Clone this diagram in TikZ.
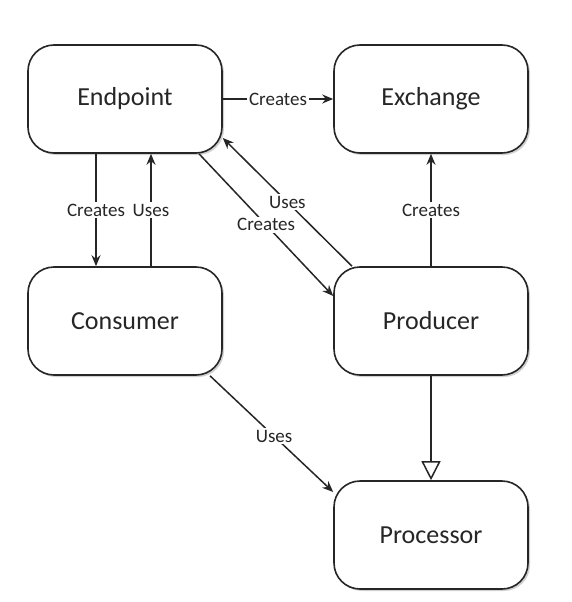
\documentclass[tikz,border=0pt]{standalone}
\usepackage{fontspec}
\setmainfont{Carlito}
\usetikzlibrary{arrows.meta,shadows}
\begin{document}
\begin{tikzpicture}[x=1pt,y=-1pt,
  box/.style={draw=black!85, line width=1.6pt, rounded corners=26pt, fill=white,
    minimum width=194pt, minimum height=108pt, inner sep=0pt,
    font=\fontsize{26}{30}\selectfont, text=black!85,
    drop shadow={shadow xshift=2pt, shadow yshift=-2pt, fill=black, opacity=0.18}},
  conn/.style={line width=1.5pt, draw=black!85, -{Stealth[length=11pt,width=9pt]}},
  gen/.style={line width=1.5pt, draw=black!85, -{Triangle[open,length=19pt,width=19pt,line width=1.5pt]}},
  lbl/.style={fill=white, inner sep=2pt, font=\fontsize{19}{22}\selectfont, text=black!85}]
\useasboundingbox (0,0) rectangle (572,602);
\node[box] (ep) at (125,99) {Endpoint};
\node[box] (ex) at (431,99) {Exchange};
\node[box] (co) at (125,321) {Consumer};
\node[box] (pr) at (431,321) {Producer};
\node[box] (ps) at (431,535) {Processor};
\draw[conn] (ep.east) -- node[lbl] {Creates} (ex.west);
\draw[conn] ([xshift=-29pt]ep.south) -- node[lbl] {Creates} ([xshift=-29pt]co.north);
\draw[conn] ([xshift=26pt]co.north) -- node[lbl] {Uses} ([xshift=26pt]ep.south);
\draw[conn] ([xshift=74pt]ep.south) -- node[lbl,pos=0.5] {Creates} ([yshift=25pt]pr.west);
\draw[conn] ([xshift=-79pt]pr.north) -- node[lbl,pos=0.5] {Uses} ([yshift=-39pt]ep.east);
\draw[conn] (pr.north) -- node[lbl] {Creates} (ex.south);
\draw[conn] ([xshift=85pt]co.south) -- node[lbl,pos=0.52] {Uses} ([yshift=43pt]ps.west);
\draw[gen] (pr.south) -- (ps.north);
\end{tikzpicture}
\end{document}
